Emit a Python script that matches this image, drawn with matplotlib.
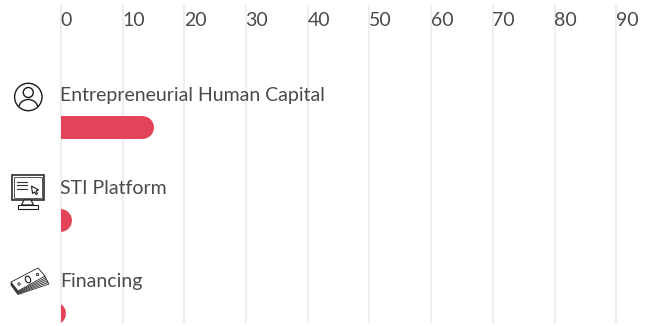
import numpy as np
import matplotlib
matplotlib.use('Agg')
import matplotlib.pyplot as plt
from matplotlib.patches import Circle, Ellipse, Polygon, Rectangle

categories = ['Entrepreneurial Human Capital', 'STI Platform', 'Financing']
values = [15, 1.7, 0.8]
ticks = [0, 10, 20, 30, 40, 50, 60, 70, 80, 90]

BAR_COLOR = '#E4445A'
GRID_COLOR = '#EEEEEE'
TEXT_COLOR = '#4A4A4A'
W, H = 652, 326

plt.rcParams['font.family'] = ['Lato', 'DejaVu Sans']
fig = plt.figure(figsize=(W / 100, H / 100), dpi=100)

# Main axes start at the zero line so the bars are cut flat on the left
left = 61
px_per_unit = 6.17
row_px = 93
first_row = 127
ax = fig.add_axes([left / W, 0, (W - left) / W, 1])
ax.set_xlim(0, (W - left) / px_per_unit)
ax.set_ylim((H - first_row) / row_px, -first_row / row_px)
ax.axis('off')

# Gridlines and tick labels along the top
for t in ticks:
    ax.plot([t, t], [(5 - first_row) / row_px, (323 - first_row) / row_px], color=GRID_COLOR,
            lw=1.5, clip_on=False, zorder=1, solid_capstyle='butt')
    ax.text(t - 0.08, (20 - first_row) / row_px, str(t), color=TEXT_COLOR, fontsize=14,
            va='center', ha='left')

# Bars are thick round-capped lines, the cap ends exactly on the value
cap_radius = 11.5 / px_per_unit
for i, (name, v) in enumerate(zip(categories, values)):
    end = v - cap_radius
    ax.plot([min(end, 0) - 1, end], [i, i], color=BAR_COLOR, lw=23 * 0.72,
            solid_capstyle='round', zorder=2)
    ax.text(-0.2, i - 31 / row_px, name, color=TEXT_COLOR, fontsize=14, va='center', ha='left',
            clip_on=False)

# Overlay in pixel coordinates for the small outline icons
ov = fig.add_axes([0, 0, 1, 1], facecolor='none')
ov.set_xlim(0, W)
ov.set_ylim(H, 0)
ov.axis('off')
ink = '#1A1A1A'

# person icon
ov.add_patch(Circle((28.3, 97), 13.7, fc='white', ec=ink, lw=1))
ov.add_patch(Circle((28.3, 92.5), 5, fc='none', ec=ink, lw=1))
body = Ellipse((28.3, 108), 19, 17, fc='none', ec=ink, lw=1)
ov.add_patch(body)
body.set_clip_path(Circle((28.3, 97), 13.7, transform=ov.transData))

# monitor icon
ov.add_patch(Rectangle((11.5, 174.5), 32.5, 25.5, fc='white', ec=ink, lw=1.1))
ov.add_patch(Rectangle((14, 177), 27.5, 20.5, fc='white', ec='#555555', lw=0.7))
ov.add_patch(Polygon([(24, 200), (31, 200), (33.5, 205), (21.5, 205)], fc='white', ec=ink, lw=0.8))
ov.add_patch(Rectangle((18, 205), 20, 3.5, fc='white', ec=ink, lw=0.8))
for y, x1 in [(182, 27), (185, 27), (188.5, 27)]:
    ov.plot([17, x1], [y, y], color='#333333', lw=0.8)
ov.add_patch(Polygon([(31.5, 186), (38.5, 190), (36, 191), (37.5, 193.5), (36, 194.5), (34.5, 192), (32.5, 193.5)],
                     fc='white', ec=ink, lw=0.8))

# stack of banknotes icon, lower notes fan out to the right
for k in [5, 4, 3, 2, 1, 0]:
    note = np.array([(11, 282 + 0.6 * k), (38 + 0.3 * k, 268 + 0.9 * k), (45 + 0.8 * k, 276 + 1.6 * k), (18, 291 + 0.7 * k)])
    ov.add_patch(Polygon(note, fc='white', ec='#2A2A2A', lw=0.6))
ov.add_patch(Ellipse((28, 279.5), 5, 7, angle=-25, fc='none', ec=ink, lw=0.8))
ov.add_patch(Circle((19, 284), 1.2, fc='none', ec=ink, lw=0.6))
ov.add_patch(Circle((37.5, 274.5), 1.2, fc='none', ec=ink, lw=0.6))

fig.savefig('out.png', dpi=100)
